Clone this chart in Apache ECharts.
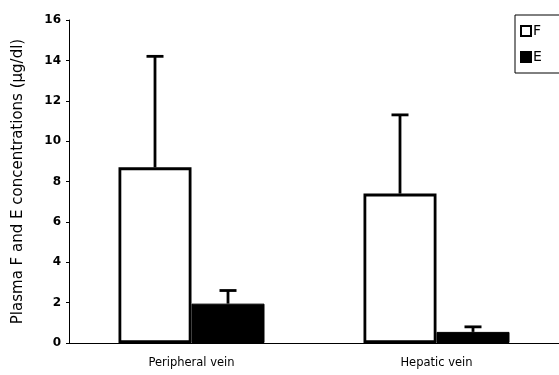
<!DOCTYPE html>
<html>
<head>
<meta charset="utf-8">
<script src="https://cdn.jsdelivr.net/npm/echarts@6/dist/echarts.min.js"></script>
<style>
  html, body { margin: 0; padding: 0; background: #fff; }
  #chart { width: 559px; height: 375px; }
</style>
</head>
<body>
<div id="chart"></div>
<script>
// Plasma concentrations (mean with upper SD) at two sampling sites
const categories = ['Peripheral vein', 'Hepatic vein'];
const meanF = [8.7, 7.4];
const upperF = [14.2, 11.3];
const meanE = [1.95, 0.55];
const upperE = [2.6, 0.8];
const yMin = 0, yMax = 16, yStep = 2;

const BAR_W = 73;
const FONT = 'DejaVu Sans, Liberation Sans, sans-serif';

// Upward error whisker with a horizontal cap, shifted to sit over its bar
function whisker(offset) {
  return function (params, api) {
    const x = api.value(0);
    const top = api.coord([x, api.value(2)]);
    const base = api.coord([x, api.value(1)]);
    const cx = top[0] + offset;
    const half = 8.5;
    const style = { stroke: '#000', lineWidth: 2.8 };
    return {
      type: 'group',
      children: [
        { type: 'line', shape: { x1: cx, y1: base[1], x2: cx, y2: top[1] }, style },
        { type: 'line', shape: { x1: cx - half, y1: top[1], x2: cx + half, y2: top[1] }, style }
      ]
    };
  };
}

const chart = echarts.init(document.getElementById('chart'));
chart.setOption({
  animation: false,
  backgroundColor: '#fff',
  grid: { left: 69, right: 0, top: 20, bottom: 32, containLabel: false },
  legend: {
    orient: 'vertical',
    left: 515,
    top: 15,
    icon: 'rect',
    itemWidth: 10,
    itemHeight: 10,
    itemGap: 12,
    padding: [9, 20, 9, 5],
    borderColor: '#000',
    borderWidth: 1,
    textStyle: { fontFamily: FONT, fontSize: 14, color: '#000', padding: [0, 0, 0, -3] },
    data: ['F', 'E']
  },
  xAxis: {
    type: 'category',
    data: categories,
    axisLine: { lineStyle: { color: '#000', width: 1 } },
    axisTick: { show: false },
    axisLabel: { fontFamily: FONT, fontSize: 11.5, color: '#000', margin: 14 }
  },
  yAxis: {
    type: 'value',
    min: yMin,
    max: yMax,
    interval: yStep,
    name: 'Plasma F and E concentrations (\u03bcg/dl)',
    nameLocation: 'middle',
    nameGap: 43,
    nameTextStyle: { fontFamily: FONT, fontSize: 15, color: '#000' },
    axisLine: { show: true, lineStyle: { color: '#000', width: 1 } },
    axisTick: { show: true, length: 3, lineStyle: { color: '#000' } },
    splitLine: { show: false },
    axisLabel: { fontFamily: FONT, fontSize: 12, fontWeight: 'bold', color: '#000', margin: 8 }
  },
  series: [
    {
      name: 'F',
      type: 'bar',
      data: meanF,
      barWidth: BAR_W,
      barGap: '0%',
      itemStyle: { color: '#fff', borderColor: '#000', borderWidth: 2.8 }
    },
    {
      name: 'E',
      type: 'bar',
      data: meanE,
      barWidth: BAR_W,
      barGap: '0%',
      itemStyle: { color: '#000', borderColor: '#000', borderWidth: 1 }
    },
    {
      type: 'custom',
      name: 'F error',
      renderItem: whisker(-BAR_W / 2),
      data: categories.map((c, i) => [i, meanF[i], upperF[i]]),
      z: 1
    },
    {
      type: 'custom',
      name: 'E error',
      renderItem: whisker(BAR_W / 2),
      data: categories.map((c, i) => [i, meanE[i], upperE[i]]),
      z: 1
    }
  ]
});
</script>
</body>
</html>
